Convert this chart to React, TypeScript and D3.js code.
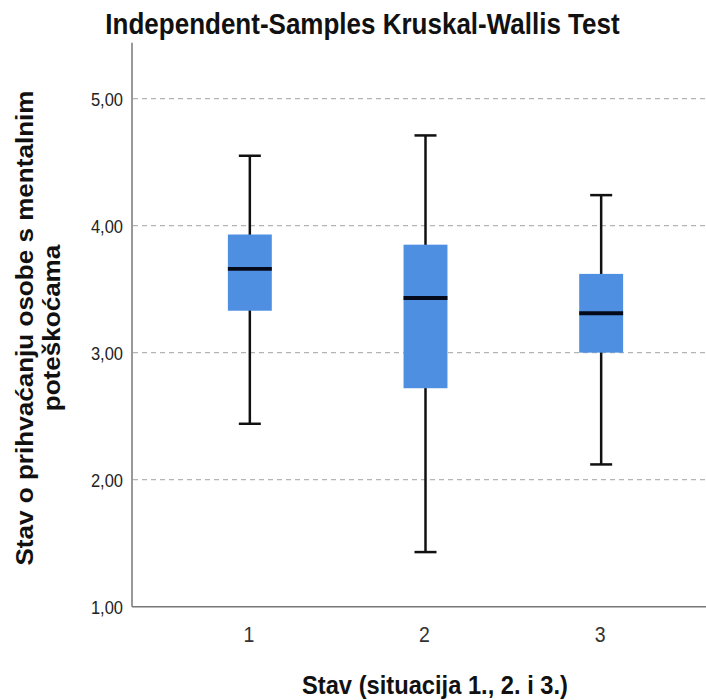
import React from 'react';
import { scaleBand, scaleLinear } from 'd3';

const groups = ['1', '2', '3'];
const whiskerLow = [2.44, 1.43, 2.12];
const q1 = [3.33, 2.72, 3.0];
const medians = [3.66, 3.43, 3.31];
const q3 = [3.93, 3.85, 3.62];
const whiskerHigh = [4.55, 4.71, 4.24];
const yTicks = [1, 2, 3, 4, 5];

const W = 706;
const H = 700;

function App() {
  const x = scaleBand<string>().domain(groups).range([162, 689]);
  const y = scaleLinear().domain([1, 5.44]).range([606.7, 42.7]);
  const boxW = x.bandwidth() * 0.25;
  const capW = 22;
  const font = 'Arial, "Liberation Sans", sans-serif';
  // the source picture is slightly stretched vertically
  const sy = 1.1;

  return (
    <svg width={W} height={H} style={{ position: 'absolute', left: 0, top: 0 }}>
      <rect width={W} height={H} fill="#fff" />
      <text transform={`translate(362.5,34) scale(1,${sy})`} textAnchor="middle" fontFamily={font} fontSize={26} fontWeight="bold" fill="#111">
        Independent-Samples Kruskal-Wallis Test
      </text>

      {yTicks.slice(1).map(t => (
        <line key={t} x1={133} x2={W} y1={y(t)} y2={y(t)} stroke="#b4b4b4" strokeWidth={1.3} strokeDasharray="5,4" />
      ))}
      {yTicks.map(t => (
        <text key={t} transform={`translate(123,${y(t) + 7}) scale(1,${sy})`} textAnchor="end" fontFamily={font} fontSize={16.5} fill="#222">
          {t.toFixed(2).replace('.', ',')}
        </text>
      ))}

      <line x1={132} x2={132} y1={y.range()[1]} y2={y(1)} stroke="#777" strokeWidth={1.5} />
      <line x1={132} x2={W} y1={y(1)} y2={y(1)} stroke="#777" strokeWidth={1.5} />

      {groups.map((g, i) => {
        const cx = x(g)! + x.bandwidth() / 2;
        return (
          <g key={g}>
            <line x1={cx} x2={cx} y1={y(whiskerLow[i])} y2={y(whiskerHigh[i])} stroke="#111" strokeWidth={2.5} />
            <line x1={cx - capW / 2} x2={cx + capW / 2} y1={y(whiskerHigh[i])} y2={y(whiskerHigh[i])} stroke="#111" strokeWidth={2.5} />
            <line x1={cx - capW / 2} x2={cx + capW / 2} y1={y(whiskerLow[i])} y2={y(whiskerLow[i])} stroke="#111" strokeWidth={2.5} />
            <rect x={cx - boxW / 2} width={boxW} y={y(q3[i])} height={y(q1[i]) - y(q3[i])} fill="#4f8fe2" />
            <line x1={cx - boxW / 2} x2={cx + boxW / 2} y1={y(medians[i])} y2={y(medians[i])} stroke="#050a1a" strokeWidth={3.8} />
            <text transform={`translate(${cx - 1},641.5) scale(1,${sy})`} textAnchor="middle" fontFamily={font} fontSize={19.5} fill="#333">{g}</text>
          </g>
        );
      })}

      <text transform={`translate(435,694) scale(1,${sy})`} textAnchor="middle" fontFamily={font} fontSize={23.7} fontWeight="bold" fill="#111">
        Stav (situacija 1., 2. i 3.)
      </text>
      <text transform={`translate(33,328) rotate(-90) scale(${sy},1)`} textAnchor="middle" fontFamily={font} fontSize={23.7} fontWeight="bold" fill="#111">
        <tspan x={0} dy={0}>Stav o prihvaćanju osobe s mentalnim</tspan>
        <tspan x={0} dy={27}>poteškoćama</tspan>
      </text>
    </svg>
  );
}

export default App;
